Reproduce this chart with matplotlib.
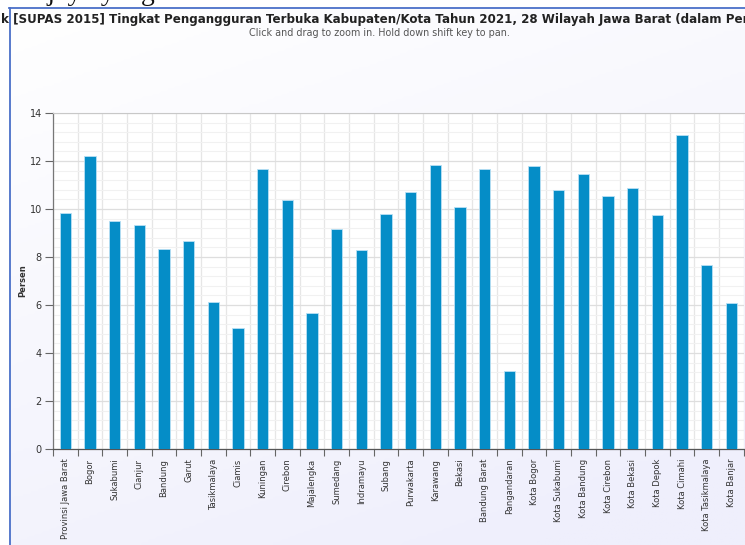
import matplotlib
matplotlib.use('Agg')
import matplotlib.pyplot as plt
import numpy as np
from matplotlib.lines import Line2D
from matplotlib.ticker import MultipleLocator, FixedLocator
from matplotlib.colors import LinearSegmentedColormap

categories = ["Provinsi Jawa Barat", "Bogor", "Sukabumi", "Cianjur", "Bandung", "Garut",
              "Tasikmalaya", "Ciamis", "Kuningan", "Cirebon", "Majalengka", "Sumedang",
              "Indramayu", "Subang", "Purwakarta", "Karawang", "Bekasi", "Bandung Barat",
              "Pangandaran", "Kota Bogor", "Kota Sukabumi", "Kota Bandung", "Kota Cirebon",
              "Kota Bekasi", "Kota Depok", "Kota Cimahi", "Kota Tasikmalaya", "Kota Banjar"]
values = [9.82, 12.22, 9.51, 9.32, 8.32, 8.68, 6.14, 5.05, 11.68, 10.37, 5.68, 9.17,
          8.29, 9.78, 10.71, 11.83, 10.08, 11.65, 3.26, 11.80, 10.78, 11.47, 10.53,
          10.88, 9.75, 13.07, 7.66, 6.08]
yticks = [0, 2, 4, 6, 8, 10, 12, 14]

title = ("k [SUPAS 2015] Tingkat Pengangguran Terbuka Kabupaten/Kota Tahun 2021, "
         "28 Wilayah Jawa Barat (dalam Persen)")
subtitle = "Click and drag to zoom in. Hold down shift key to pan."
top_text = "e jaya yang tersedia."
ylabel = "Persen"

W, H = 745, 545
fig = plt.figure(figsize=(W / 100, H / 100), dpi=100)
fig.patch.set_facecolor('white')


def fx(px):
    return px / W


def fy(py):
    return 1 - py / H


# container background with gradient
bg = fig.add_axes([fx(9), 0, 1 - fx(9), fy(7)])
gx, gy = np.meshgrid(np.linspace(0, 1, 200), np.linspace(0, 1, 200))
grad = np.clip(0.35 * gx + 0.75 * gy, 0, 1)
cmap = LinearSegmentedColormap.from_list('bgc', ['#ffffff', '#efeffc'])
bg.imshow(grad, cmap=cmap, aspect='auto', extent=[0, 1, 0, 1], origin='upper', vmin=0, vmax=1)
bg.set_axis_off()
bg.set_zorder(0)

# border of container
fig.add_artist(Line2D([fx(9.5), fx(9.5)], [0, fy(7.5)], color='#4a70c8', lw=1.3, transform=fig.transFigure))
fig.add_artist(Line2D([fx(9), 1], [fy(7.5), fy(7.5)], color='#4a70c8', lw=1.3, transform=fig.transFigure))

# clipped serif text at the very top (only its lower part is visible, as in the reference)
fig.text(fx(28), fy(0.3), top_text, fontsize=20, family='Liberation Serif', ha='left', va='baseline', color='#111')

# title / subtitle
fig.text(fx(1), fy(19), title, fontsize=8.6, fontweight='bold', ha='left', va='center', color='#222')
fig.text(fx(379), fy(33), subtitle, fontsize=6.9, ha='center', va='center', color='#555')

ax = fig.add_axes([fx(53), fy(449), fx(743.7) - fx(53), fy(113) - fy(449)])
ax.set_zorder(2)
ax.set_facecolor('white')
x = np.arange(len(categories))
ax.bar(x, values, width=0.47, color='#058DC7', edgecolor='#b8e0f4', linewidth=0.6, zorder=3)

ax.set_xlim(-0.5, len(categories) - 0.5)
ax.set_ylim(0, 14)
ax.yaxis.set_major_locator(FixedLocator(yticks))
ax.yaxis.set_minor_locator(MultipleLocator(0.4))
ax.set_xticks(x)
ax.set_xticklabels(categories, rotation=90, fontsize=6, color='#333')
ax.xaxis.set_minor_locator(FixedLocator(np.arange(-0.5, len(categories), 1)))
ax.tick_params(axis='x', which='major', length=0, pad=7)
ax.tick_params(axis='x', which='minor', length=5, width=0.8, color='#666', direction='out')
ax.tick_params(axis='y', which='major', length=6, width=0.8, color='#666', labelsize=7, labelcolor='#333', pad=2)
ax.tick_params(axis='y', which='minor', length=0)

ax.grid(True, axis='y', which='major', color='#dedede', lw=0.9, zorder=0)
ax.grid(True, axis='y', which='minor', color='#f1f1f1', lw=0.8, zorder=0)
ax.grid(True, axis='x', which='minor', color='#e6e6e6', lw=0.9, zorder=0)
ax.set_axisbelow(True)

ax.spines['right'].set_visible(False)
ax.spines['top'].set_color('#c8c8c8')
ax.spines['left'].set_color('#777')
ax.spines['bottom'].set_color('#555')
ax.spines['left'].set_linewidth(0.9)
ax.spines['bottom'].set_linewidth(0.9)

fig.text(fx(23), fy(281), ylabel, rotation=90, fontsize=6, fontweight='bold', ha='center', va='center', color='#333')

fig.savefig('out.png', dpi=100)
